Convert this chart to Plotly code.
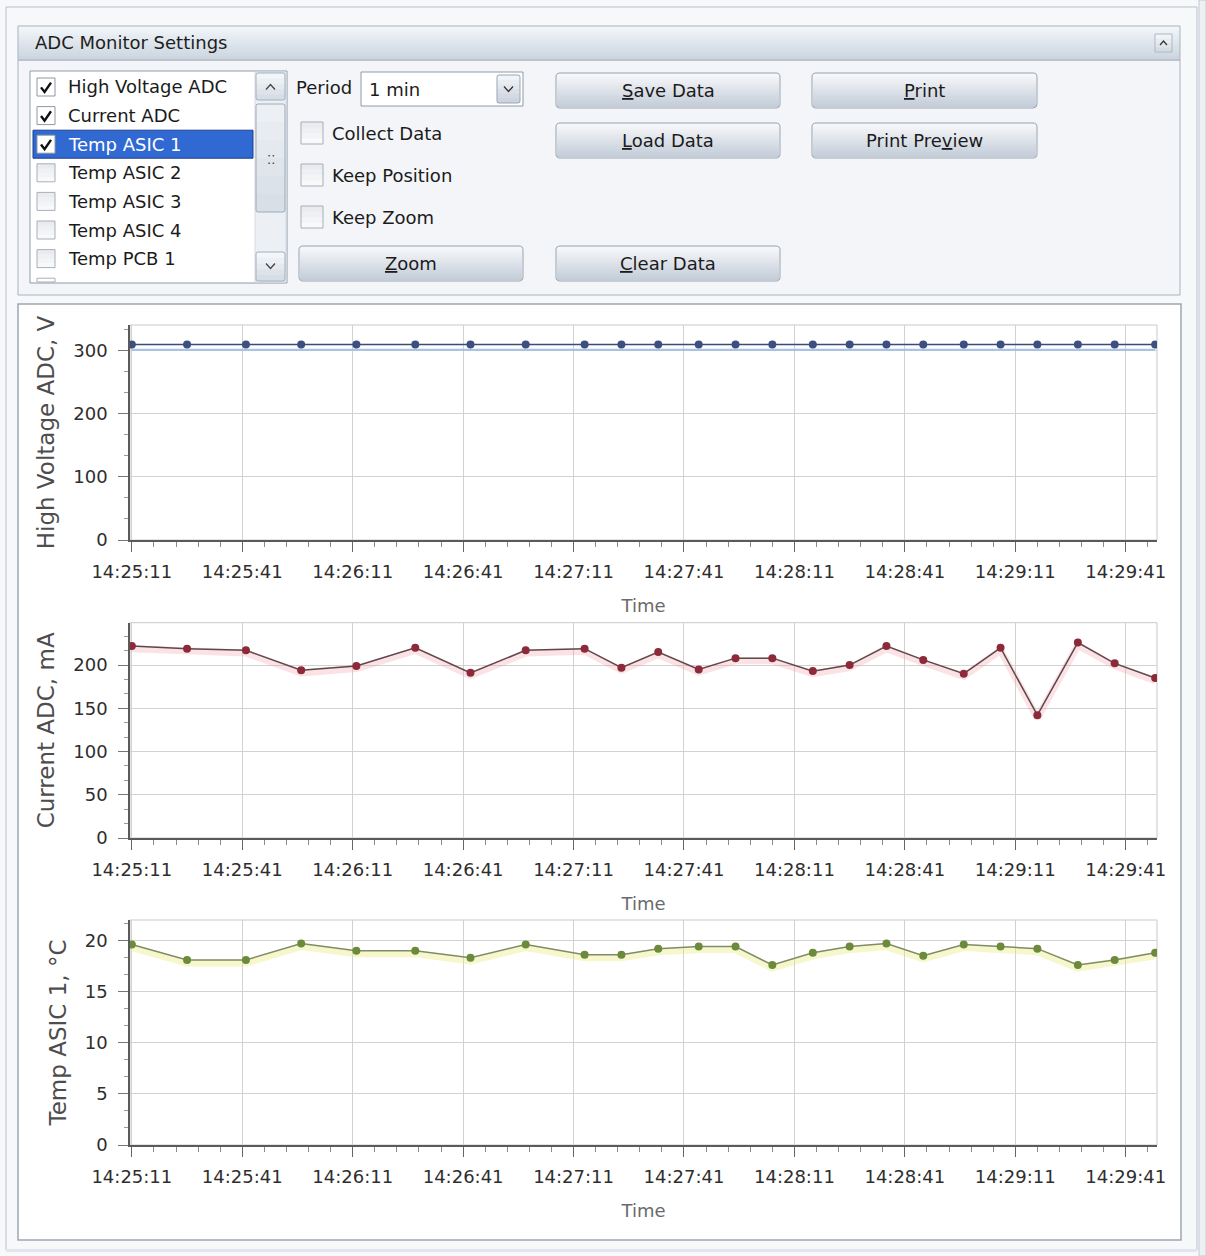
import plotly.graph_objects as go
import pandas as pd

W, H = 1206, 1256
FONT = "DejaVu Sans"

# ---------------- data ----------------
DATE = "2000-01-01"
time_labels = ["14:25:11", "14:25:26", "14:25:42", "14:25:57", "14:26:12", "14:26:28",
               "14:26:43", "14:26:58", "14:27:14", "14:27:24", "14:27:34", "14:27:45",
               "14:27:55", "14:28:05", "14:28:16", "14:28:26", "14:28:36", "14:28:46",
               "14:28:57", "14:29:07", "14:29:17", "14:29:28", "14:29:38", "14:29:49"]
hv_values = [309, 309, 309, 309, 309, 309, 309, 309, 309, 309, 309, 309,
             309, 309, 309, 309, 309, 309, 309, 309, 309, 309, 309, 309]
current_values = [222, 219, 217, 194, 199, 220, 191, 217, 219, 197, 215, 195,
                  208, 208, 193, 200, 222, 206, 190, 220, 142, 226, 202, 185]
temp_values = [19.6, 18.1, 18.1, 19.7, 19.0, 19.0, 18.3, 19.6, 18.6, 18.6, 19.2, 19.4,
               19.4, 17.6, 18.8, 19.4, 19.7, 18.5, 19.6, 19.4, 19.2, 17.6, 18.1, 18.8]
x_tick_labels = ["14:25:11", "14:25:41", "14:26:11", "14:26:41", "14:27:11",
                 "14:27:41", "14:28:11", "14:28:41", "14:29:11", "14:29:41"]
hv_ticks = [0, 100, 200, 300]
current_ticks = [0, 50, 100, 150, 200]
temp_ticks = [0, 5, 10, 15, 20]

channel_names = ["High Voltage ADC", "Current ADC", "Temp ASIC 1", "Temp ASIC 2",
                 "Temp ASIC 3", "Temp ASIC 4", "Temp PCB 1"]
channel_checked = [True, True, True, False, False, False, False]
selected_channel = "Temp ASIC 1"
option_labels = ["Collect Data", "Keep Position", "Keep Zoom"]

times = pd.to_datetime([f"{DATE} {t}" for t in time_labels])
tickvals = pd.to_datetime([f"{DATE} {t}" for t in x_tick_labels])

# ---------------- helpers ----------------
def X(x):
    return x / W

def Y(y):
    return 1 - y / H

shapes, annos = [], []

def rect(x0, y0, x1, y1, fill="rgba(0,0,0,0)", line=None, lw=1):
    shapes.append(dict(type="rect", xref="paper", yref="paper",
                       x0=X(x0), x1=X(x1), y0=Y(y1), y1=Y(y0),
                       fillcolor=fill,
                       line=dict(color=line if line else "rgba(0,0,0,0)", width=lw if line else 0),
                       layer="below"))

def hx(c):
    c = c.lstrip("#")
    return [int(c[i:i + 2], 16) for i in (0, 2, 4)]

def lerp(c1, c2, t):
    a, b = hx(c1), hx(c2)
    return "rgb(%d,%d,%d)" % tuple(round(a[i] + (b[i] - a[i]) * t) for i in range(3))

def grad(x0, y0, x1, y1, c1, c2, n=10):
    h = (y1 - y0) / n
    for i in range(n):
        rect(x0, y0 + i * h, x1, min(y1, y0 + (i + 1) * h + 0.6), fill=lerp(c1, c2, (i + 0.5) / n))

def P(x, y):
    return f"{X(x):.6f},{Y(y):.6f}"

def rrect(x0, y0, x1, y1, r, line, lw=1, fill="rgba(0,0,0,0)"):
    p = (f"M{P(x0 + r, y0)} L{P(x1 - r, y0)} Q{P(x1, y0)} {P(x1, y0 + r)} "
         f"L{P(x1, y1 - r)} Q{P(x1, y1)} {P(x1 - r, y1)} L{P(x0 + r, y1)} "
         f"Q{P(x0, y1)} {P(x0, y1 - r)} L{P(x0, y0 + r)} Q{P(x0, y0)} {P(x0 + r, y0)} Z")
    shapes.append(dict(type="path", path=p, xref="paper", yref="paper",
                       line=dict(color=line, width=lw), fillcolor=fill, layer="below"))

def poly(pts, color, lw=1.5):
    p = "M" + " L".join(P(x, y) for x, y in pts)
    shapes.append(dict(type="path", path=p, xref="paper", yref="paper",
                       line=dict(color=color, width=lw), layer="below"))

def text(x, y, s, size=18, color="#1b1b1b", xa="left", ya="middle"):
    annos.append(dict(x=X(x), y=Y(y), xref="paper", yref="paper", text=s, showarrow=False,
                      xanchor=xa, yanchor=ya, font=dict(family=FONT, size=size, color=color)))

def button(x0, y0, x1, y1, label):
    grad(x0 + 1, y0 + 1, x1 - 1, y1 - 1, "#f8f9fb", "#c2cbd7", n=12)
    rrect(x0, y0, x1, y1, 4, "#97a3b1", 1)
    text((x0 + x1) / 2, (y0 + y1) / 2, label, xa="center")

def chevron(cx, cy, w, h, up, color="#3a3a3a", lw=1.3):
    if up:
        poly([(cx - w / 2, cy + h / 2), (cx, cy - h / 2), (cx + w / 2, cy + h / 2)], color, lw)
    else:
        poly([(cx - w / 2, cy - h / 2), (cx, cy + h / 2), (cx + w / 2, cy - h / 2)], color, lw)

def checkbox(x0, y0, s, checked, white=True):
    if white:
        rect(x0, y0, x0 + s, y0 + s, fill="#ffffff", line="#8f98a3", lw=1)
    else:
        grad(x0, y0, x0 + s, y0 + s, "#e6e9ed", "#fbfbfc", n=4)
        rect(x0, y0, x0 + s, y0 + s, line="#a7afb8", lw=1)
    if checked:
        poly([(x0 + 4, y0 + s * 0.52), (x0 + s * 0.42, y0 + s * 0.78), (x0 + s - 4, y0 + s * 0.26)],
             "#111111", 2.4)

# ---------------- window chrome ----------------
rect(6, 7, 1197, 1250, fill="#f6f8fa", line="#b8c1cb", lw=1)
rect(1199, 0, 1206, 1256, fill="#eef1f4", line="#c3cad2", lw=1)

# group box: ADC Monitor Settings
rect(18, 60, 1180, 295, fill="#f3f5f8", line="#a9b3bf", lw=1)
grad(18, 26, 1180, 60, "#f4f7fa", "#c9d3de", n=14)
rect(18, 26, 1180, 60, line="#a9b3bf", lw=1)
text(33, 43, "ADC Monitor Settings", size=18, color="#1e1e1e")
grad(1155, 34, 1172, 52, "#f6f8fa", "#d0d8e1", n=4)
rect(1155, 34, 1172, 52, line="#aeb8c3", lw=1)
chevron(1163.5, 43, 7, 4, True, "#333333", 1.2)

# list box
rect(30, 71, 287, 283, fill="#ffffff", line="#8d9aaa", lw=1)
row_y0, row_h = 87, 28.6
for i, name in enumerate(channel_names):
    cy = row_y0 + i * row_h
    if name == selected_channel:
        rect(33, cy - 14, 253, cy + 14, fill="#3169d3")
        rect(33, cy - 14, 253, cy + 14, line="#1d3f8a", lw=1)
    checkbox(37, cy - 9, 18, channel_checked[i], white=channel_checked[i])
    text(66, cy, name, size=18, color="#ffffff" if name == selected_channel else "#1b1b1b")
# partially visible 8th row box
rect(37, row_y0 + 7 * row_h - 9, 55, 282, line="#a7afb8", lw=1)

# scrollbar
rect(255, 72, 286, 282, fill="#eceff3", line="#d5dbe2", lw=1)
grad(256, 73, 285, 100, "#f7f9fb", "#d3dae3", n=5)
rrect(256, 73, 285, 100, 2, "#a3afbd", 1)
chevron(270.5, 87, 9, 5, True, "#444444", 1.3)
grad(256, 104, 285, 212, "#eef1f5", "#d6dde6", n=6)
rrect(256, 104, 285, 212, 2, "#9eabba", 1)
text(270.5, 160, "⁚⁚", size=13, color="#444444", xa="center")
grad(256, 252, 285, 281, "#f7f9fb", "#d3dae3", n=5)
rrect(256, 252, 285, 281, 2, "#a3afbd", 1)
chevron(270.5, 266, 9, 5, False, "#444444", 1.3)

# period combo
text(294, 88, "Period", size=18)
rect(361, 72, 523, 106, fill="#ffffff", line="#8d9aaa", lw=1)
text(367, 89, "1 min", size=18)
grad(497, 75, 520, 103, "#f4f6f9", "#c9d1dc", n=6)
rrect(497, 75, 520, 103, 2, "#98a5b4", 1)
chevron(508.5, 89, 9, 5, False, "#333333", 1.3)

# option check boxes
for i, lab in enumerate(option_labels):
    cy = 133 + i * 42
    checkbox(301, cy - 11, 22, False, white=False)
    text(330, cy, lab, size=18)

# buttons
button(299, 246, 523, 281, "<u>Z</u>oom")
button(556, 73, 780, 108, "<u>S</u>ave Data")
button(556, 123, 780, 158, "<u>L</u>oad Data")
button(556, 246, 780, 281, "<u>C</u>lear Data")
button(812, 73, 1037, 108, "<u>P</u>rint")
button(812, 123, 1037, 158, "Print Pre<u>v</u>iew")

# chart panel
rect(18, 304, 1181, 1240, fill="#ffffff", line="#9ea7b0", lw=1.5)
rect(6, 1249, 1197, 1252, fill="#dfe6ee")

# ---------------- charts ----------------
PL, PR = 130, 1157
panels = [(325, 540), (622.7, 838), (920, 1145)]
for top, bot in panels:
    rect(PL, top, PR, bot, line="#c9c9c9", lw=1)

xr = [times[0] - pd.Timedelta(milliseconds=500), times[-1] + pd.Timedelta(milliseconds=500)]

def xaxis_cfg(anchor):
    return dict(type="date", domain=[X(PL), X(PR)], anchor=anchor, range=xr,
                automargin=False,
                tickmode="array", tickvals=tickvals, ticktext=x_tick_labels,
                ticks="outside", ticklen=10, tickwidth=1, tickcolor="#666666",
                ticklabelstandoff=5,
                tickfont=dict(family=FONT, size=18, color="#2e2e2e"),
                showgrid=True, gridcolor="#d2d2d2", gridwidth=1,
                showline=True, linecolor="#5a5a5a", linewidth=1.5,
                zeroline=False, fixedrange=True,
                minor=dict(tickmode="linear", tick0=f"{DATE} 14:25:11", dtick=6000,
                           ticks="outside", ticklen=5, tickcolor="#8a8a8a", showgrid=False),
                title=dict(text="Time", font=dict(family=FONT, size=18, color="#6a6a6a"),
                           standoff=18))

def yaxis_cfg(anchor, top, bot, rng, tv, minor_dt, title):
    return dict(domain=[Y(bot), Y(top)], anchor=anchor, range=rng,
                automargin=False,
                tickmode="array", tickvals=tv, ticks="outside", ticklen=10, tickwidth=1,
                tickcolor="#777777", ticklabelstandoff=7,
                tickfont=dict(family=FONT, size=18, color="#2e2e2e"),
                showgrid=True, gridcolor="#d2d2d2", gridwidth=1,
                showline=True, linecolor="#5a5a5a", linewidth=1.5,
                zeroline=False, fixedrange=True,
                minor=dict(tickmode="linear", tick0=0, dtick=minor_dt, ticks="outside",
                           ticklen=4, tickcolor="#9a9a9a", showgrid=False),
                title=dict(text=title, font=dict(family=FONT, size=23, color="#4d4d4d"),
                           standoff=12))

fig = go.Figure()

series = [
    dict(y=hv_values, xa="x", ya="y", line="#3b4b79", marker="#3d4f7e",
         glow="rgba(150,185,228,0.85)", glow_w=2, shift=8),
    dict(y=current_values, xa="x2", ya="y2", line="#5f474c", marker="#8d2a39",
         glow="rgba(238,150,160,0.28)", glow_w=7, shift=3),
    dict(y=temp_values, xa="x3", ya="y3", line="#7f8c65", marker="#6c8a3b",
         glow="rgba(228,232,110,0.35)", glow_w=7, shift=0.3),
]
for s in series:
    fig.add_trace(go.Scatter(x=times, y=[v - s["shift"] for v in s["y"]], mode="lines",
                             line=dict(color=s["glow"], width=s["glow_w"]),
                             xaxis=s["xa"], yaxis=s["ya"], hoverinfo="skip", showlegend=False))
    fig.add_trace(go.Scatter(x=times, y=s["y"], mode="lines+markers",
                             line=dict(color=s["line"], width=1.5),
                             marker=dict(color=s["marker"], size=8),
                             xaxis=s["xa"], yaxis=s["ya"], showlegend=False))

fig.update_layout(
    width=W, height=H, margin=dict(l=0, r=0, t=0, b=0, autoexpand=False),
    paper_bgcolor="#f6f8fa", plot_bgcolor="#ffffff",
    font=dict(family=FONT, size=18, color="#1b1b1b"),
    xaxis=xaxis_cfg("y"), xaxis2=xaxis_cfg("y2"), xaxis3=xaxis_cfg("y3"),
    yaxis=yaxis_cfg("x", *panels[0], [0, 340], hv_ticks, 100 / 3, "High Voltage ADC, V"),
    yaxis2=yaxis_cfg("x2", *panels[1], [0, 249], current_ticks, 50 / 3, "Current ADC, mA"),
    yaxis3=yaxis_cfg("x3", *panels[2], [0, 22], temp_ticks, 5 / 3, "Temp ASIC 1, °C"),
    shapes=shapes, annotations=annos,
)

fig.write_html("out.html", config=dict(displayModeBar=False),
               post_script="document.body.style.margin='0';")
